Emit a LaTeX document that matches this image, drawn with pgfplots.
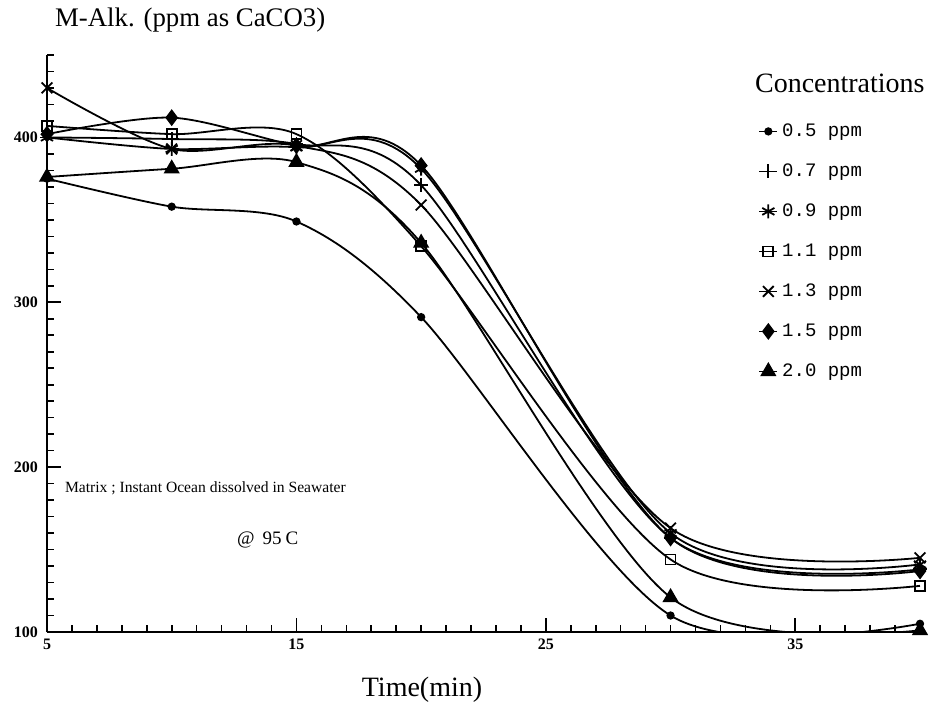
\documentclass[border=0pt]{standalone}
\usepackage{fontspec}
\setmainfont{Liberation Serif}
\setmonofont{Liberation Mono}
\usepackage{pgfplots}
\pgfplotsset{compat=1.18}

\begin{document}
\begin{tikzpicture}[x=1pt,y=1pt]
\path[use as bounding box] (0,0) rectangle (465.5,356);
\begin{axis}[
  at={(23.5pt,40pt)}, anchor=south west,
  scale only axis, width=436.5pt, height=288.5pt,
  xmin=5, xmax=40, ymin=100, ymax=450,
  axis x line*=bottom, axis y line*=left,
  axis line style={line width=1.1pt, -},
  xtick={5,15,25,35}, xticklabels={5,15,25,35},
  minor xtick={6,7,...,40},
  ytick={100,200,300,400}, yticklabels={100,200,300,400},
  minor ytick={110,120,...,450},
  tick align=inside,
  major tick length=7pt, minor tick length=3.5pt,
  every tick/.style={black, line width=0.8pt},
  ticklabel style={font=\bfseries\fontsize{8}{8}\selectfont},
  yticklabel style={xshift=-1pt},
  legend style={at={(0.8076,0.8908)}, anchor=north west, draw=none, fill=none,
    font=\ttfamily\fontsize{9.5}{9.5}\selectfont,
    nodes={inner sep=0pt, text height=7pt, text depth=2pt},
    row sep=11pt, column sep=2pt},
  legend cell align=left,
  legend image code/.code={\draw[mark repeat=2,mark phase=2,#1] plot coordinates {(0pt,0pt) (4.5pt,0pt) (9pt,0pt)};},
  every axis plot/.append style={black, line width=0.9pt, smooth, tension=0.5},
]
\addplot[mark=*, mark size=1.6pt] coordinates {(5,375) (10,358) (15,349) (20,291) (30,110) (40,105)};
\addlegendentry{0.5 ppm}
\addplot[mark=+, mark size=3.5pt] coordinates {(5,400) (10,399) (15,396) (20,371) (30,157) (40,138)};
\addlegendentry{0.7 ppm}
\addplot[mark=asterisk, mark size=3.5pt] coordinates {(5,400) (10,393) (15,394) (20,381) (30,160) (40,141)};
\addlegendentry{0.9 ppm}
\addplot[mark=square, mark size=2.5pt, mark options={fill=white}] coordinates {(5,407) (10,402) (15,402) (20,334) (30,144) (40,128)};
\addlegendentry{1.1 ppm}
\addplot[mark=x, mark size=3.8pt] coordinates {(5,430) (10,393) (15,395) (20,359) (30,163) (40,145)};
\addlegendentry{1.3 ppm}
\addplot[mark=diamond*, mark size=3.5pt] coordinates {(5,402) (10,412) (15,395) (20,383) (30,157) (40,137)};
\addlegendentry{1.5 ppm}
\addplot[mark=triangle*, mark size=3.8pt] coordinates {(5,376) (10,381) (15,385) (20,336) (30,121) (40,101)};
\addlegendentry{2.0 ppm}
\end{axis}
\node[anchor=west, font=\fontsize{13.4}{14}\selectfont] at (24,346) {M-Alk. (ppm as CaCO3)};
\node[font=\fontsize{14}{15}\selectfont] at (211,11) {Time(min)};
\node[anchor=west, font=\fontsize{14}{15}\selectfont] at (374,314.5) {Concentrations};
\node[anchor=west, font=\fontsize{7.8}{9}\selectfont] at (29,112) {Matrix ; Instant Ocean dissolved in Seawater};
\node[anchor=west, font=\fontsize{9.5}{10}\selectfont] at (115,86) {@\hspace{4pt}95\hspace{2pt}C};
\end{tikzpicture}
\end{document}
